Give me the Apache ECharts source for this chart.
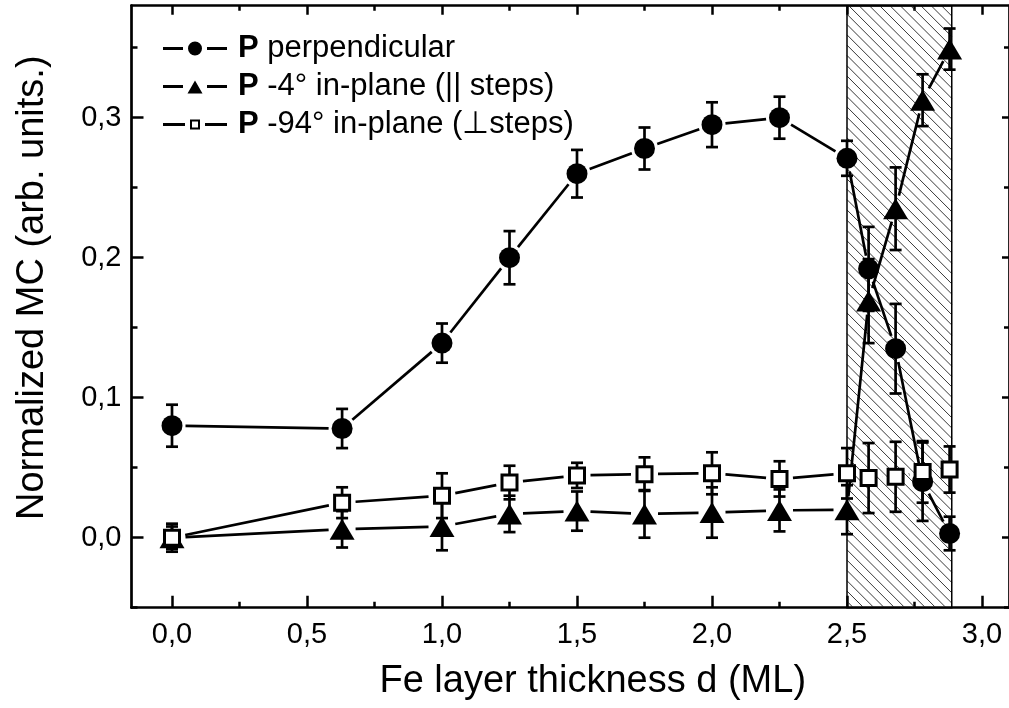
<!DOCTYPE html>
<html>
<head>
<meta charset="utf-8">
<script src="https://cdn.jsdelivr.net/npm/echarts@6/dist/echarts.min.js"></script>
<style>
  html, body { margin: 0; padding: 0; background: #fff; }
  #chart { width: 1009px; height: 708px; }
</style>
</head>
<body>
<div id="chart"></div>
<script>
// Fe layer thickness (ML)
const thickness = [0, 0.63, 1.0, 1.25, 1.5, 1.75, 2.0, 2.25, 2.5, 2.58, 2.68, 2.78, 2.88];

// P perpendicular
const mcPerp  = [0.080, 0.078, 0.139, 0.200, 0.260, 0.278, 0.295, 0.300, 0.271, 0.192, 0.135, 0.040, 0.003];
const errPerp = [0.015, 0.014, 0.014, 0.019, 0.017, 0.015, 0.016, 0.015, 0.0125, 0.030, 0.032, 0.028, 0.012];

// P -4° in-plane (parallel to steps)
const mcPar  = [0.000, 0.006, 0.008, 0.017, 0.019, 0.017, 0.018, 0.0195, 0.020, 0.169, 0.235, 0.3125, 0.349];
const errPar = [0.008, 0.013, 0.017, 0.013, 0.014, 0.017, 0.018, 0.015, 0.0175, 0.030, 0.0295, 0.0185, 0.0147];

// P -94° in-plane (perpendicular to steps)
const mcOrtho  = [0.000, 0.025, 0.030, 0.0394, 0.0445, 0.0454, 0.046, 0.042, 0.046, 0.0426, 0.0435, 0.047, 0.0487];
const errOrtho = [0.010, 0.011, 0.016, 0.012, 0.009, 0.012, 0.015, 0.0126, 0.018, 0.025, 0.025, 0.022, 0.0165];

// Shaded thickness range
const stepRegion = [2.5, 2.888];

// Axis ticks
const xMajorTicks = [0, 0.5, 1.0, 1.5, 2.0, 2.5, 3.0];
const xMinorTicks = [0.25, 0.75, 1.25, 1.75, 2.25, 2.75];
const yMajorTicks = [0, 0.1, 0.2, 0.3];
const yMinorTicks = [-0.05, 0.05, 0.15, 0.25, 0.35];

const seriesNames = ['P perpendicular', 'P -4° in-plane (|| steps)', 'P -94° in-plane (⊥steps)'];

const X_MIN = -0.15, X_MAX = 3.1, Y_MIN = -0.05, Y_MAX = 0.38;
const FONT = "'Liberation Sans', Arial, Helvetica, sans-serif";
const INK = '#000';
const LW = 2.7;

const fmt = v => v.toFixed(1).replace('.', ',');

function segments(xs, ys) {
  const out = [];
  for (let i = 0; i < xs.length - 1; i++) out.push([xs[i], ys[i], xs[i + 1], ys[i + 1]]);
  return out;
}
function errorRows(xs, ys, es) {
  return xs.map((x, i) => [x, ys[i] - es[i], ys[i] + es[i]]);
}

// Connecting line between neighbouring points, trimmed back from each marker
const GAP = 13.5;
function renderSegment(params, api) {
  const a = api.coord([api.value(0), api.value(1)]);
  const b = api.coord([api.value(2), api.value(3)]);
  const dx = b[0] - a[0], dy = b[1] - a[1];
  const len = Math.hypot(dx, dy);
  if (len <= 2 * GAP) return null;
  const ux = dx / len, uy = dy / len;
  return {
    type: 'line',
    shape: { x1: a[0] + ux * GAP, y1: a[1] + uy * GAP, x2: b[0] - ux * GAP, y2: b[1] - uy * GAP },
    style: { stroke: INK, lineWidth: LW }
  };
}

// Vertical error bar with caps
function renderErrorBar(params, api) {
  const x = api.value(0);
  const lo = api.coord([x, api.value(1)]);
  const hi = api.coord([x, api.value(2)]);
  const cap = 6;
  const st = { stroke: INK, lineWidth: LW };
  return {
    type: 'group',
    children: [
      { type: 'line', shape: { x1: lo[0], y1: lo[1], x2: hi[0], y2: hi[1] }, style: st },
      { type: 'line', shape: { x1: hi[0] - cap, y1: hi[1], x2: hi[0] + cap, y2: hi[1] }, style: st },
      { type: 'line', shape: { x1: lo[0] - cap, y1: lo[1], x2: lo[0] + cap, y2: lo[1] }, style: st }
    ]
  };
}

// Hatched band across the full height of the plot
function renderHatch(params, api) {
  const p0 = api.coord([api.value(0), Y_MAX]);
  const p1 = api.coord([api.value(1), Y_MIN]);
  const x0 = p0[0], y0 = p0[1];
  const w = p1[0] - x0, h = p1[1] - y0;
  const step = 10.3;
  const children = [];
  for (let d = -w; d < h; d += step) {
    const ta = Math.max(0, -d), tb = Math.min(w, h - d);
    if (tb <= ta) continue;
    children.push({
      type: 'line',
      shape: { x1: x0 + ta, y1: y0 + ta + d, x2: x0 + tb, y2: y0 + tb + d },
      style: { stroke: '#222', lineWidth: 0.9 }
    });
  }
  children.push({
    type: 'rect',
    shape: { x: x0, y: y0, width: w, height: h },
    style: { fill: null, stroke: INK, lineWidth: 1.5 }
  });
  return { type: 'group', children };
}

// Legend icons: line – marker – line
const iconCircle = 'path://M0 5.5H20V8.5H0Z M25 7A7 7 0 1 0 39 7A7 7 0 1 0 25 7Z M44 5.5H64V8.5H44Z M70 0 M70 14';
const iconTriangle = 'path://M0 5.5H20V8.5H0Z M24.5 14L32 1L39.5 14Z M44 5.5H64V8.5H44Z M70 0 M70 14';
const iconSquare = 'path://M0 5.5H22V8.5H0Z M27 2H37V12H27Z M29 4V10H35V4Z M42 5.5H64V8.5H42Z M70 0 M70 14';

const tickStyle = { color: INK, width: 2.5 };
const labelStyle = { color: INK, fontSize: 29, fontFamily: FONT };

function xAxisDef(position, ticks, len, withLine, withLabel) {
  return {
    type: 'value', min: X_MIN, max: X_MAX, position,
    axisLine: { show: withLine, onZero: false, lineStyle: { color: INK, width: LW } },
    axisTick: { show: true, inside: true, length: len, customValues: ticks, lineStyle: tickStyle },
    axisLabel: withLabel
      ? Object.assign({ show: true, margin: 13, customValues: ticks, formatter: fmt }, labelStyle)
      : { show: false },
    splitLine: { show: false }
  };
}
function yAxisDef(position, ticks, len, withLine, withLabel) {
  return {
    type: 'value', min: Y_MIN, max: Y_MAX, position,
    axisLine: { show: withLine, onZero: false, lineStyle: { color: INK, width: LW } },
    axisTick: { show: true, inside: true, length: len, customValues: ticks, lineStyle: tickStyle },
    axisLabel: withLabel
      ? Object.assign({ show: true, margin: 10, customValues: ticks, formatter: fmt }, labelStyle)
      : { show: false },
    splitLine: { show: false }
  };
}

const xMain = xAxisDef('bottom', xMajorTicks, 12, true, true);
Object.assign(xMain, {
  name: 'Fe layer thickness d (ML)',
  nameLocation: 'middle',
  nameGap: 55,
  nameTextStyle: { color: INK, fontSize: 38, fontFamily: FONT, padding: [0, 0, 0, 45] }
});
const yMain = yAxisDef('left', yMajorTicks, 12, true, true);
Object.assign(yMain, {
  name: 'Normalized MC (arb. units.)',
  nameLocation: 'middle',
  nameGap: 80,
  nameTextStyle: { color: INK, fontSize: 38, fontFamily: FONT, padding: [0, 0, 0, 38] }
});

const chart = echarts.init(document.getElementById('chart'), null, { renderer: 'canvas' });
chart.setOption({
  animation: false,
  backgroundColor: '#fff',
  grid: { left: 131.5, right: 0, top: 5.7, bottom: 100.3, containLabel: false, outerBoundsMode: 'none' },
  xAxis: [
    xMain,
    xAxisDef('bottom', xMinorTicks, 6, false, false),
    xAxisDef('top', xMajorTicks, 9, true, false),
    xAxisDef('top', xMinorTicks, 5, false, false)
  ],
  yAxis: [
    yMain,
    yAxisDef('left', yMinorTicks, 6, false, false),
    yAxisDef('right', yMajorTicks, 7, true, false),
    yAxisDef('right', yMinorTicks, 5, false, false)
  ],
  legend: {
    orient: 'vertical',
    left: 163,
    top: 33,
    padding: 0,
    itemGap: 7,
    itemWidth: 70,
    itemHeight: 14,
    selectedMode: false,
    textStyle: {
      color: INK, fontSize: 31, fontFamily: FONT,
      rich: { b: { fontWeight: 'bold', fontSize: 31, fontFamily: FONT, color: INK } }
    },
    formatter: name => '{b|P}' + name.slice(1),
    data: [
      { name: seriesNames[0], icon: iconCircle, itemStyle: { color: INK, borderWidth: 0 } },
      { name: seriesNames[1], icon: iconTriangle, itemStyle: { color: INK, borderWidth: 0 } },
      { name: seriesNames[2], icon: iconSquare, itemStyle: { color: INK, borderWidth: 0 } }
    ]
  },
  series: [
    {
      type: 'custom', name: 'region', silent: true, z: 1,
      renderItem: renderHatch,
      encode: { x: [0, 1] },
      data: [stepRegion]
    },
    {
      type: 'custom', name: 'lines-perp', silent: true, z: 2,
      renderItem: renderSegment, encode: { x: [0, 2], y: [1, 3] },
      data: segments(thickness, mcPerp)
    },
    {
      type: 'custom', name: 'lines-par', silent: true, z: 2,
      renderItem: renderSegment, encode: { x: [0, 2], y: [1, 3] },
      data: segments(thickness, mcPar)
    },
    {
      type: 'custom', name: 'lines-ortho', silent: true, z: 2,
      renderItem: renderSegment, encode: { x: [0, 2], y: [1, 3] },
      data: segments(thickness, mcOrtho)
    },
    {
      type: 'custom', name: 'errors', silent: true, z: 3,
      renderItem: renderErrorBar, encode: { x: 0, y: [1, 2] },
      data: errorRows(thickness, mcPerp, errPerp)
        .concat(errorRows(thickness, mcPar, errPar))
        .concat(errorRows(thickness, mcOrtho, errOrtho))
    },
    {
      type: 'scatter', name: seriesNames[0], silent: true, z: 4,
      symbol: 'circle', symbolSize: 21,
      itemStyle: { color: INK, opacity: 1 },
      data: thickness.map((x, i) => [x, mcPerp[i]])
    },
    {
      type: 'scatter', name: seriesNames[1], silent: true, z: 4,
      symbol: 'triangle', symbolSize: [25, 21],
      itemStyle: { color: INK, opacity: 1 },
      data: thickness.map((x, i) => [x, mcPar[i]])
    },
    {
      type: 'scatter', name: seriesNames[2], silent: true, z: 4,
      symbol: 'rect', symbolSize: 15,
      itemStyle: { color: '#fff', borderColor: INK, borderWidth: 3, opacity: 1 },
      data: thickness.map((x, i) => [x, mcOrtho[i]])
    }
  ]
});
</script>
</body>
</html>
